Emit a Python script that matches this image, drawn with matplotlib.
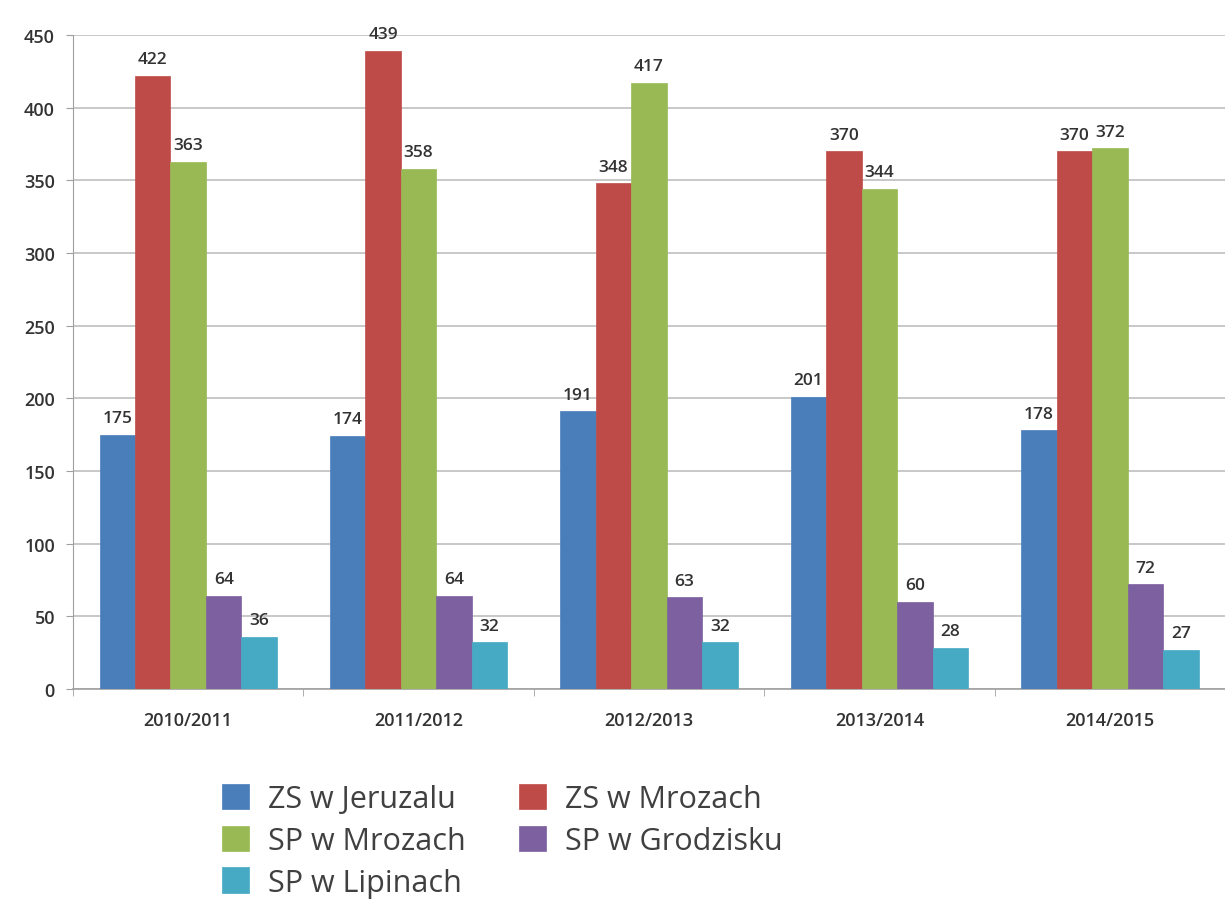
import matplotlib.pyplot as plt
import numpy as np

years = ["2010/2011", "2011/2012", "2012/2013", "2013/2014", "2014/2015"]
series = ["ZS w Jeruzalu", "ZS w Mrozach", "SP w Mrozach", "SP w Grodzisku", "SP w Lipinach"]
zs_jeruzal = [175, 174, 191, 201, 178]
zs_mrozy = [422, 439, 348, 370, 370]
sp_mrozy = [363, 358, 417, 344, 372]
sp_grodzisk = [64, 64, 63, 60, 72]
sp_lipiny = [36, 32, 32, 28, 27]
colors = ["#4a7ebb", "#be4b48", "#98b954", "#7d60a0", "#46aac5"]

values = [zs_jeruzal, zs_mrozy, sp_mrozy, sp_grodzisk, sp_lipiny]

fig = plt.figure(figsize=(12.25, 9.03), dpi=100)
ax = fig.add_axes([0.0596, 0.236, 0.9404, 0.724])

x = np.arange(len(years))
w = 0.154
handles = []
for i, (vals, c) in enumerate(zip(values, colors)):
    pos = x + (i - 2) * w
    b = ax.bar(pos, vals, width=w, color=c, edgecolor=c, linewidth=0.5, zorder=3, label=series[i])
    handles.append(b)
    for p, v in zip(pos, vals):
        ax.text(p, v + 6, str(v), ha="center", va="bottom", fontsize=12.5,
                color="#333333", family="Open Sans", fontweight="semibold")

ax.set_xlim(-0.5, 4.434)
ax.set_ylim(0, 450)
ax.set_yticks(range(0, 451, 50))
ax.yaxis.grid(True, color="#bfbfbf", linewidth=1.2, zorder=0)
ax.set_xticks(x)
ax.set_xticklabels(years)
ax.set_xticks(np.arange(-0.5, 5, 1), minor=True)
ax.tick_params(axis="x", which="major", length=0, pad=16)
ax.tick_params(axis="x", which="minor", length=5, color="#a0a0a0")
ax.tick_params(axis="y", length=5, color="#a0a0a0", pad=8)
for lab in ax.get_xticklabels() + ax.get_yticklabels():
    lab.set_family("Open Sans")
    lab.set_fontsize(13)
    lab.set_color("#333333")
    lab.set_fontweight("semibold")
for s in ["top", "right"]:
    ax.spines[s].set_visible(False)
ax.spines["left"].set_color("#a0a0a0")
ax.spines["bottom"].set_color("#a0a0a0")
ax.spines["bottom"].set_linewidth(1.2)

order = [0, 2, 4, 1, 3]
leg = fig.legend([handles[i] for i in order], [series[i] for i in order],
                 ncol=2, loc="upper left", bbox_to_anchor=(0.181, 0.131),
                 frameon=False, prop={"family": "Open Sans", "size": 22},
                 handlelength=0.9, handleheight=0.9, handletextpad=0.6,
                 columnspacing=1.75, labelspacing=0.38, borderpad=0,
                 borderaxespad=0)
for t in leg.get_texts():
    t.set_color("#404040")

fig.savefig("out.png", dpi=100)
